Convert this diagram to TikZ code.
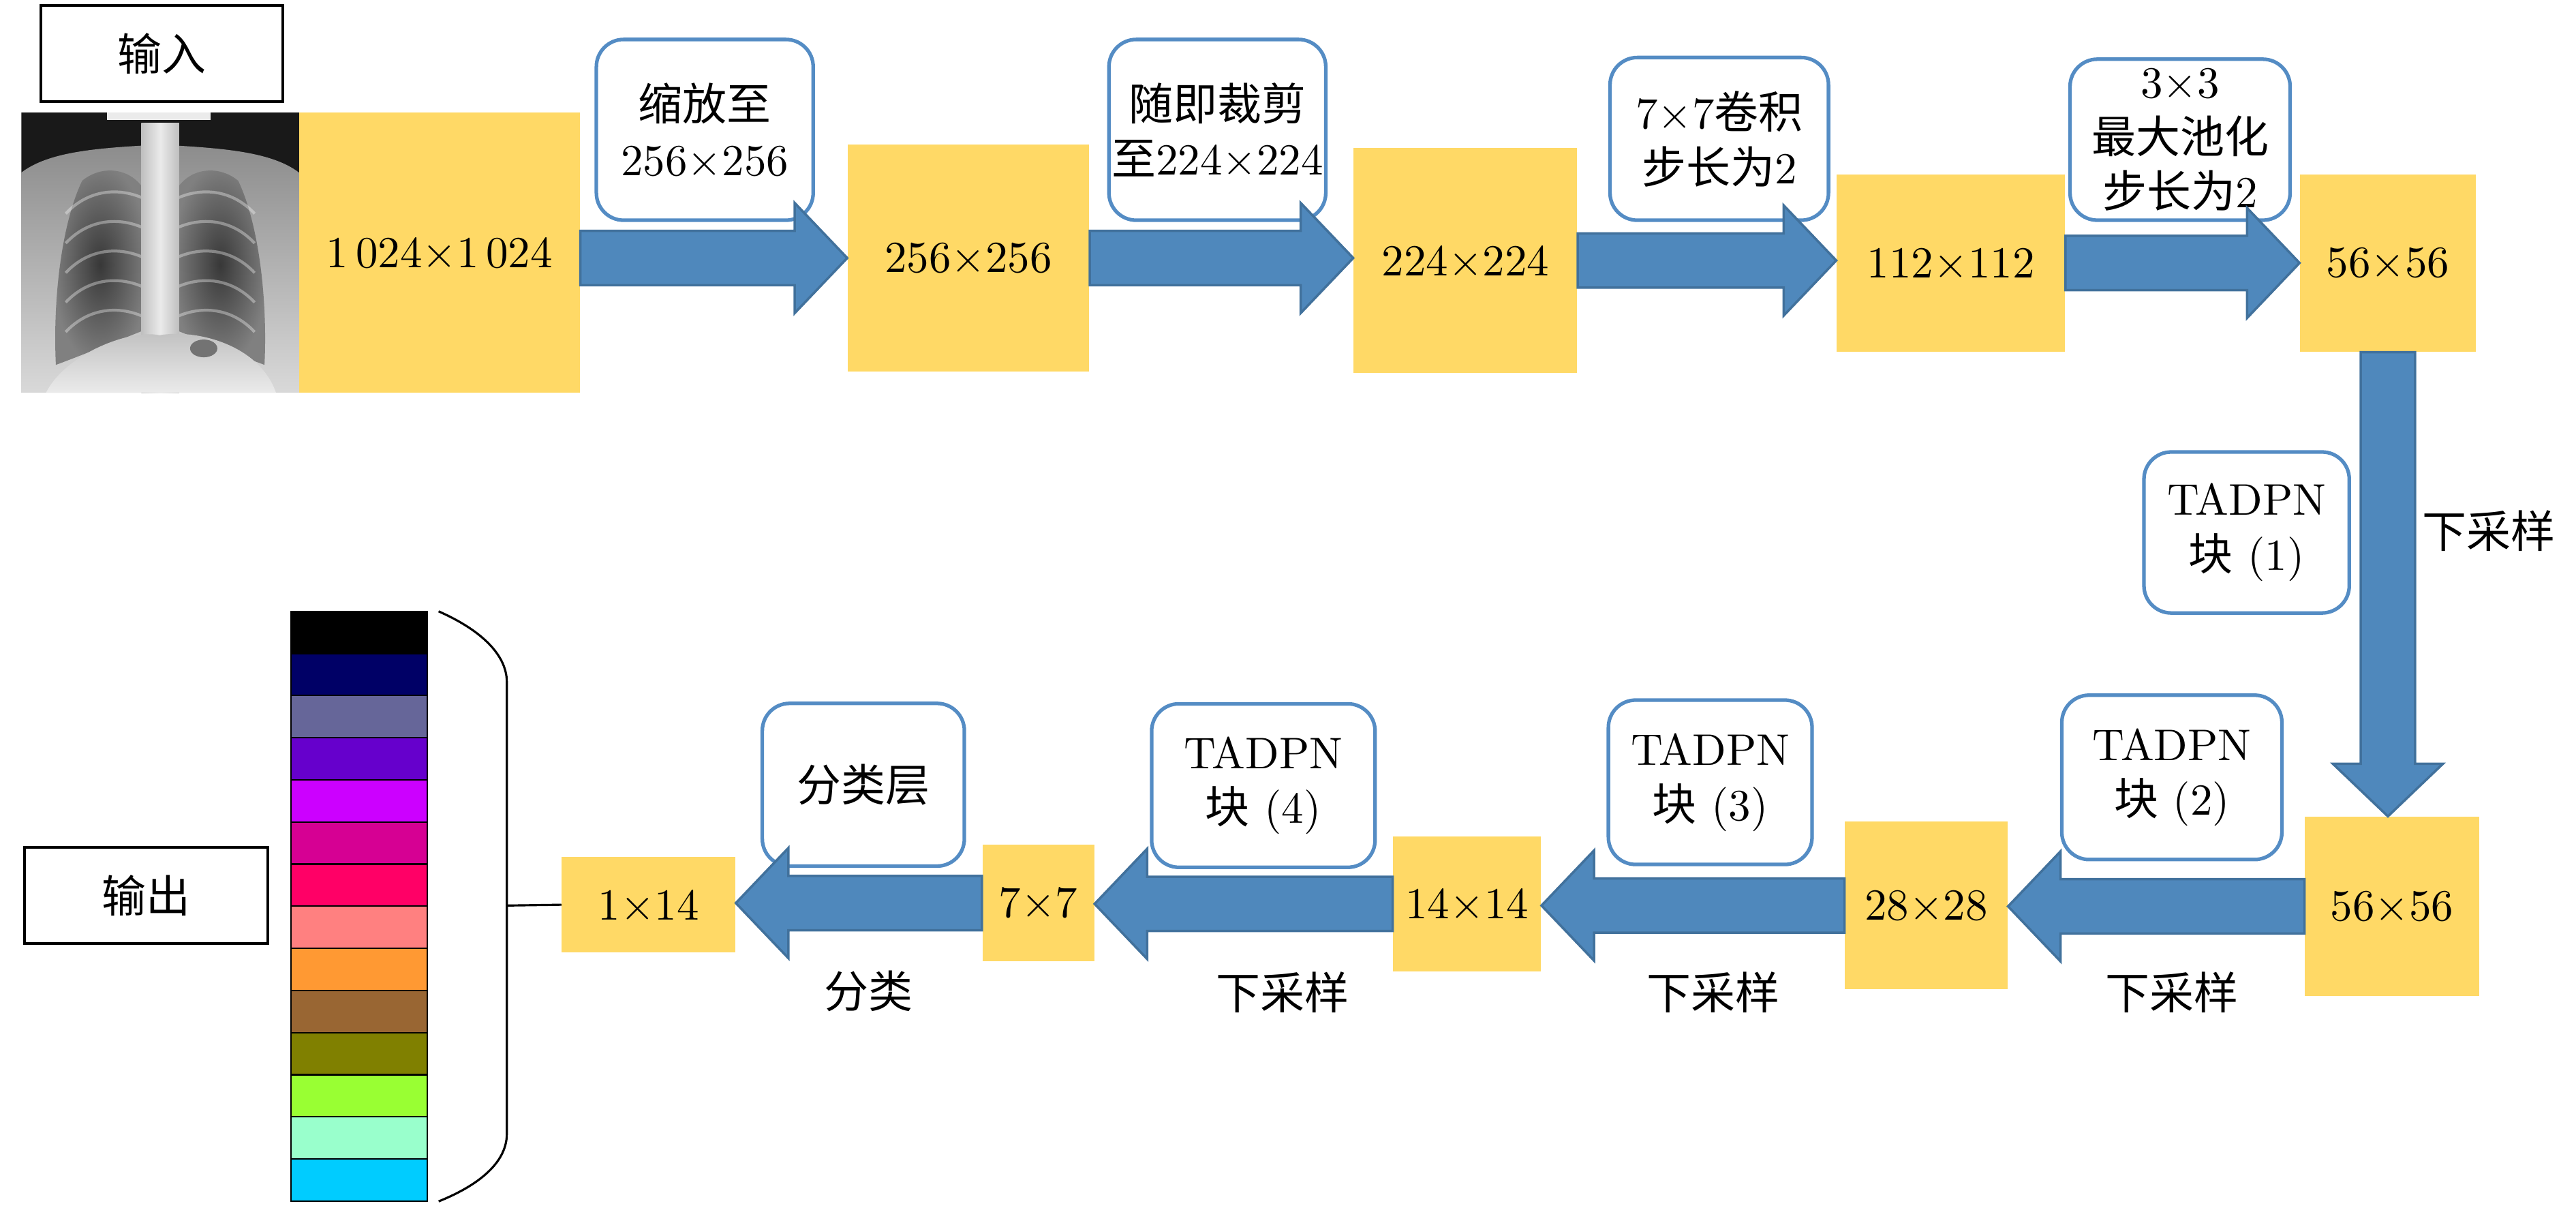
\documentclass[tikz,border=0pt]{standalone}
\usepackage{fontspec}
\setmainfont{lmroman10-regular}[Extension=.otf]
\newfontfamily\cjk{Noto Sans CJK SC}
\usetikzlibrary{calc}
\definecolor{featyellow}{RGB}{255,217,102}
\definecolor{arrowblue}{RGB}{79,136,188}
\definecolor{arrowedge}{RGB}{65,113,156}
\definecolor{calloutblue}{RGB}{84,140,196}

\begin{document}
\begin{tikzpicture}[x=0.024107cm, y=-0.024107cm,
  every node/.style={font=\fontsize{18.5}{23}\selectfont},
  featbox/.style={fill=featyellow, inner sep=0pt},
  callout/.style={draw=calloutblue, line width=1.5pt, rounded corners=0.4cm, fill=white, align=center, inner sep=0pt},
  plainbox/.style={draw, line width=1.2pt, inner sep=0pt},
  cell/.style={draw, line width=0.6pt, minimum width=2cm, minimum height=0.618cm, inner sep=0pt, node distance=0.618cm},
  rib/.style={draw=white, opacity=0.35, line width=1.2pt},
  bigarrow/.style={fill=arrowblue, draw=arrowedge, line width=1pt, to path={
    let \p1=($(\tikztotarget)!0.771cm!(\tikztostart)$) in
    ($(\tikztostart)!0.398cm!90:(\tikztotarget)$) -- ($(\p1)!0.398cm!90:(\tikztotarget)$) -- ($(\p1)!0.808cm!90:(\tikztotarget)$) -- (\tikztotarget)
    -- ($(\p1)!0.808cm!-90:(\tikztotarget)$) -- ($(\p1)!0.398cm!-90:(\tikztotarget)$) -- ($(\tikztostart)!0.398cm!-90:(\tikztotarget)$) -- cycle}}]
\useasboundingbox (0,0) rectangle (1568,735);

% x-ray
\begin{scope}
\clip (13,68.6) rectangle (182,239);
\fill[black!90] (13,68.6) rectangle (182,239);
\shade[top color=black!45, bottom color=black!15] (13,239) -- (13,105) .. controls (30,92) and (60,90) .. (97,88) .. controls (134,90) and (165,92) .. (182,105) -- (182,239) -- cycle;
\shade[inner color=black!78, outer color=black!50] (50,110) .. controls (62,100) and (80,102) .. (88,116) -- (90,200) .. controls (70,208) and (45,218) .. (34,222) .. controls (32,180) and (38,135) .. (50,110) -- cycle;
\shade[inner color=black!78, outer color=black!50] (145,110) .. controls (133,100) and (115,102) .. (107,116) -- (105,200) .. controls (125,208) and (150,218) .. (161,222) .. controls (163,180) and (157,135) .. (145,110) -- cycle;
\foreach \r in {118,136,154,172,190} {
  \draw[rib] (40,\r+12) .. controls (55,\r-4) and (75,\r-4) .. (90,\r+4);
  \draw[rib] (155,\r+12) .. controls (140,\r-4) and (120,\r-4) .. (105,\r+4);
}
\shade[left color=black!25, right color=black!25, middle color=black!8] (86,75) rectangle (109,239);
\shade[top color=black!25, bottom color=black!8] (28,239) .. controls (40,215) and (80,200) .. (97,204) .. controls (120,200) and (158,210) .. (168,239) -- cycle;
\fill[black!55] (124,212) ellipse [x radius=0.2cm, y radius=0.13cm];
\fill[black!8] (65,68.6) rectangle (128,73);
\end{scope}

\node (inlabel) [plainbox, minimum width=3.544cm, minimum height=1.415cm] at (98.5,32.6) {{\cjk 输入}};
\node (outlabel) [plainbox, minimum width=3.568cm, minimum height=1.410cm] at (89,545) {{\cjk 输出}};

% feature maps
\node (in) [featbox, minimum width=4.122cm, minimum height=4.110cm] at (267.5,153.8) {1\,024×1\,024};
\node (r256) [featbox, minimum width=3.544cm, minimum height=3.327cm] at (589.5,157) {256×256};
\node (r224) [featbox, minimum width=3.279cm, minimum height=3.303cm] at (892,158.5) {224×224};
\node (r112) [featbox, minimum width=3.351cm, minimum height=2.604cm] at (1187.5,160) {112×112};
\node (r56a) [featbox, minimum width=2.579cm, minimum height=2.604cm] at (1453.5,160) {56×56};
\node (r56b) [featbox, minimum width=2.555cm, minimum height=2.628cm] at (1456,551.5) {56×56};
\node (r28) [featbox, minimum width=2.387cm, minimum height=2.459cm] at (1172.5,551) {28×28};
\node (r14) [featbox, minimum width=2.170cm, minimum height=1.977cm] at (893,550) {14×14};
\node (r7) [featbox, minimum width=1.639cm, minimum height=1.712cm] at (632,549.5) {7×7};
\node (out14) [featbox, minimum width=2.546cm, minimum height=1.398cm] at (394.8,550.5) {1×14};

% operation boxes
\node (resize) [callout, minimum width=3.182cm, minimum height=2.652cm] at (429,79) {{\cjk 缩放至}\\256×256};
\node (crop) [callout, minimum width=3.182cm, minimum height=2.652cm] at (741,79) {{\cjk 随即裁剪}\\{\cjk 至}224×224};
\node (conv) [callout, minimum width=3.206cm, minimum height=2.387cm] at (1046.5,84.5) {7×7{\cjk 卷积}\\{\cjk 步长为}2};
\node (pool) [callout, minimum width=3.230cm, minimum height=2.362cm] at (1327,85) {3×3\\{\cjk 最大池化}\\{\cjk 步长为}2};
\node (block1) [callout, minimum width=3.013cm, minimum height=2.362cm] at (1367.5,324) {TADPN\\{\cjk 块} (1)};
\node (block2) [callout, minimum width=3.230cm, minimum height=2.411cm] at (1322,473) {TADPN\\{\cjk 块} (2)};
\node (block3) [callout, minimum width=2.989cm, minimum height=2.411cm] at (1041,476) {TADPN\\{\cjk 块} (3)};
\node (block4) [callout, minimum width=3.279cm, minimum height=2.399cm] at (769,478) {TADPN\\{\cjk 块} (4)};
\node (clslayer) [callout, minimum width=2.965cm, minimum height=2.387cm] at (525.5,477.5) {{\cjk 分类层}};

% block arrows
\draw[bigarrow] (in.east |- r256.west) to (r256.west);
\draw[bigarrow] (r256.east) to (r256.east -| r224.west);
\draw[bigarrow] (r224.east) to (r224.east -| r112.west);
\draw[bigarrow] (r112.east) to (r56a.west);
\draw[bigarrow] (r56a.south) to (r56a.south |- r56b.north);
\draw[bigarrow] (r56b.west) to (r56b.west -| r28.east);
\draw[bigarrow] (r28.west) to (r28.west -| r14.east);
\draw[bigarrow] (r14.west) to (r14.west -| r7.east);
\draw[bigarrow] (r7.west) to (r7.west -| out14.east);

\node (down0) at (1515,323) {{\cjk 下采样}};
\node (down1) at (1322,604) {{\cjk 下采样}};
\node (down2) at (1043,604) {{\cjk 下采样}};
\node (down3) at (780.5,604) {{\cjk 下采样}};
\node (classify) at (528.5,603) {{\cjk 分类}};

% output classes
\node (cell1) [cell, fill=black] at (218.5,384.8) {};
\foreach \hex [count=\i from 2, remember=\i as \j (initially 1)] in {000066,666699,6600CC,CC00FF,D60093,FF0066,FF8080,FF9933,996633,808000,99FF33,99FFCC,00CCFF} {
  \definecolor{cellfill}{HTML}{\hex}
  \node (cell\i) [cell, fill=cellfill, below of=cell\j] {};
}
\coordinate (bracemid) at (308.5,551);
\draw[line width=0.9pt] (267,372) .. controls (292,383) and (308.5,398) .. (308.5,415) -- (308.5,690) .. controls (308.5,707) and (292,721) .. (267,731);
\draw[line width=0.9pt] (out14.west) -- (bracemid);
\end{tikzpicture}
\end{document}
